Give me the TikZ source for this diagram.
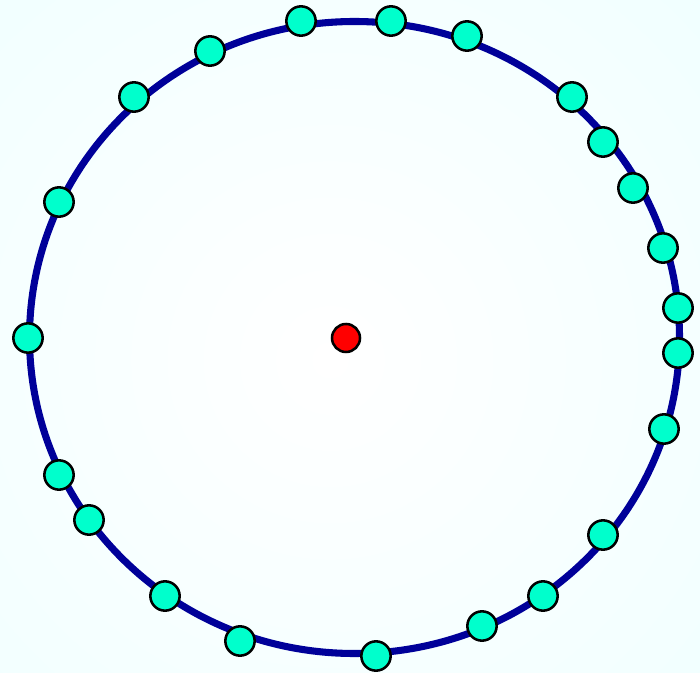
\documentclass[tikz,border=0pt]{standalone}
\definecolor{bgcyan}{HTML}{E2FFFF}
\definecolor{ringblue}{HTML}{000099}
\definecolor{nodecyan}{HTML}{00FFCC}
\tikzset{
  dot/.style={circle, draw=black, line width=1.9pt, fill=nodecyan, minimum size=22pt, inner sep=0pt},
  centerdot/.style={circle, draw=black, line width=1.9pt, fill=red, minimum size=21pt, inner sep=0pt},
  ring/.style={draw=ringblue, line width=5.3pt}
}
\begin{document}
\begin{tikzpicture}[x=0.75pt, y=-0.75pt]
\useasboundingbox (0,0) rectangle (700,673);
\fill[bgcyan] (0,0) rectangle (700,673);
\begin{scope}
\clip (0,0) rectangle (700,673);
\shade[inner color=white, outer color=bgcyan] (330,360) circle (1050);
\end{scope}
\draw[ring] (354.5,337.5) ellipse (325 and 316);
\node[centerdot] (c) at (346,338) {};
\foreach \i/\x/\y in {1/301/21, 2/391/21, 3/467/36, 4/572/97, 5/603/142, 6/633/188, 7/663/248, 8/678/308, 9/678/353, 10/664/429, 11/603/535, 12/543/596, 13/482/626, 14/376/656, 15/240/641, 16/165/596, 17/89/520, 18/59/475, 19/28/338, 20/59/202, 21/134/97, 22/210/51}
  \node[dot] (n\i) at (\x,\y) {};
\end{tikzpicture}
\end{document}
